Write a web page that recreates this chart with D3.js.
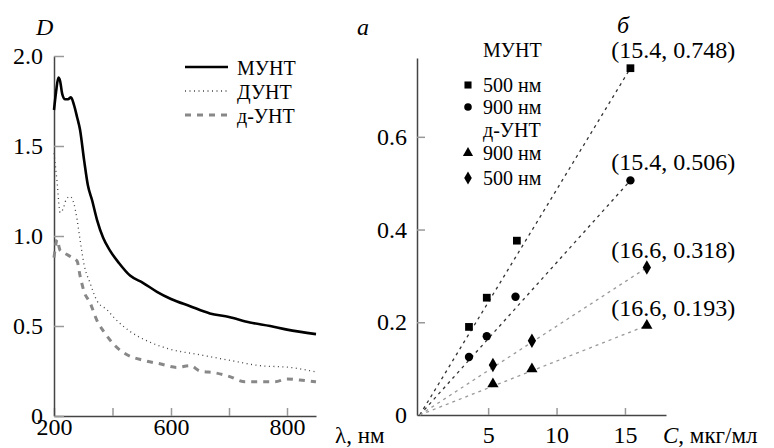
<!DOCTYPE html>
<html>
<head>
<meta charset="utf-8">
<script src="https://cdn.jsdelivr.net/npm/d3@7"></script>
<style>
  body { margin: 0; background: #fff; }
  svg, svg text { font-family: "Liberation Serif", "Times New Roman", serif; }
  .tick line { stroke: #999; stroke-width: 1.5; }
  .domain { stroke: #444; stroke-width: 1.5; }
  .tick text { font-size: 24px; fill: #000; }
</style>
</head>
<body>
<svg id="chart" width="774" height="448"></svg>
<script>
// panel a: absorption spectra
var munWl  = [200, 207, 215, 221, 228, 238, 248, 258, 268, 279, 289, 303, 316, 330, 347, 368, 391, 422, 460, 504, 552, 600, 633, 667, 700, 736, 771, 800, 850],
	munD   = [1.70, 1.80, 1.88, 1.86, 1.79, 1.76, 1.76, 1.77, 1.73, 1.66, 1.59, 1.42, 1.28, 1.20, 1.09, 0.99, 0.92, 0.85, 0.78, 0.74, 0.69, 0.65, 0.61, 0.57, 0.55, 0.52, 0.50, 0.48, 0.455];
var dunWl  = [200, 210, 221, 231, 241, 255, 268, 279, 289, 303, 323, 347, 381, 409, 460, 528, 600, 650, 700, 753, 805, 850],
	dunD   = [1.46, 1.31, 1.13, 1.15, 1.20, 1.22, 1.18, 1.09, 0.98, 0.84, 0.74, 0.64, 0.59, 0.54, 0.47, 0.41, 0.37, 0.34, 0.31, 0.28, 0.27, 0.245];
var duntWl = [200, 207, 210, 221, 241, 262, 279, 289, 303, 323, 347, 374, 409, 450, 504, 562, 610, 633, 650, 676, 700, 728, 753, 779, 800, 822, 850],
	duntD  = [0.88, 0.96, 0.98, 0.92, 0.90, 0.88, 0.86, 0.78, 0.69, 0.63, 0.53, 0.46, 0.39, 0.34, 0.31, 0.29, 0.27, 0.28, 0.25, 0.24, 0.22, 0.19, 0.19, 0.19, 0.205, 0.20, 0.19];
var seriesNames = ["МУНТ", "ДУНТ", "д-УНТ"];
var wlTicks  = [200, 400, 600, 700, 800],
	wlLabels = ["200", "", "600", "", "800"];
var dTicks   = [0, 0.5, 1.0, 1.5, 2.0];

// panel b: calibration
var cMunt500 = [3.6, 4.9, 7.1, 15.4],  dMunt500 = [0.19, 0.253, 0.376, 0.748];
var cMunt900 = [3.6, 4.9, 7.0, 15.4],  dMunt900 = [0.125, 0.17, 0.255, 0.506];
var cDunt900 = [5.35, 8.2, 16.6],      dDunt900 = [0.067, 0.099, 0.193];
var cDunt500 = [5.35, 8.2, 16.6],      dDunt500 = [0.108, 0.16, 0.318];
var cTicks = [5, 10, 15],
	aTicks = [0, 0.2, 0.4, 0.6];

var FONT = "'Liberation Serif', 'Times New Roman', serif";

var svg = d3.select("#chart").attr("font-family", FONT);

// ---------- left panel ----------
var xL = d3.scaleLinear().domain([200, 600, 800, 850]).range([54, 171, 287, 316]),
	yL = d3.scaleLinear().domain([0, 2]).range([416, 56]);

svg.append("g")
	.attr("transform", "translate(0," + yL(0) + ")")
	.call(d3.axisBottom(xL).tickValues(wlTicks).tickSize(-8).tickSizeOuter(0).tickPadding(2)
		.tickFormat((d, i) => wlLabels[i]))
	.attr("font-family", FONT).attr("font-size", 24);

svg.append("g")
	.attr("transform", "translate(" + xL(200) + ",0)")
	.call(d3.axisLeft(yL).tickValues(dTicks).tickSize(-10).tickSizeOuter(0).tickPadding(11)
		.tickFormat(d => d === 0 ? "0" : d.toFixed(1)))
	.attr("font-family", FONT).attr("font-size", 24);

var lineL = d3.line().x(d => xL(d[0])).y(d => yL(d[1])).curve(d3.curveMonotoneX);

var styles = [
	{stroke: "#000", width: 2.6, dash: null},
	{stroke: "#444", width: 1.3, dash: "1,3.5"},
	{stroke: "#888", width: 3, dash: "6,6"}
];
var spectra = [
	d3.zip(munWl, munD),
	d3.zip(dunWl, dunD),
	d3.zip(duntWl, duntD)
];

spectra.forEach(function(s, i) {
	svg.append("path")
		.datum(s)
		.attr("fill", "none")
		.attr("stroke", styles[i].stroke)
		.attr("stroke-width", styles[i].width)
		.attr("stroke-dasharray", styles[i].dash)
		.attr("d", lineL);
});

var legL = svg.append("g");
seriesNames.forEach(function(n, i) {
	var y = 67 + i * 24;
	legL.append("line")
		.attr("x1", 185).attr("x2", 228).attr("y1", y).attr("y2", y)
		.attr("stroke", styles[i].stroke)
		.attr("stroke-width", styles[i].width)
		.attr("stroke-dasharray", styles[i].dash);
	legL.append("text")
		.attr("x", 237).attr("y", y + 8)
		.style("font-size", "20px")
		.text(n);
});

svg.append("text").attr("x", 36).attr("y", 35)
	.style("font-size", "24px").style("font-style", "italic").text("D");
svg.append("text").attr("x", 335).attr("y", 443)
	.style("font-size", "23px").text("λ, нм");
svg.append("text").attr("x", 357).attr("y", 35)
	.style("font-size", "24px").style("font-style", "italic").text("a");

// ---------- right panel ----------
var xR = d3.scaleLinear().domain([-0.2, 18]).range([417, 666]),
	yR = d3.scaleLinear().domain([0, 0.77]).range([415, 58]);

svg.append("g")
	.attr("transform", "translate(0," + yR(0) + ")")
	.call(d3.axisBottom(xR).tickValues(cTicks).tickSize(-7).tickSizeOuter(0).tickPadding(11))
	.attr("font-family", FONT).attr("font-size", 24);

svg.append("g")
	.attr("transform", "translate(" + xR(-0.2) + ",0)")
	.call(d3.axisLeft(yR).tickValues(aTicks).tickSize(-8).tickSizeOuter(0).tickPadding(10)
		.tickFormat(d => d === 0 ? "0" : d.toFixed(1)))
	.attr("font-family", FONT).attr("font-size", 24)
	.call(g => g.selectAll(".tick").filter(d => d === 0).select("line").remove());

var groups = [
	{c: cMunt500, d: dMunt500, sym: d3.symbolSquare,   size: 60, line: "#333"},
	{c: cMunt900, d: dMunt900, sym: d3.symbolCircle,   size: 55, line: "#333"},
	{c: cDunt900, d: dDunt900, sym: d3.symbolTriangle, size: 55, line: "#999"},
	{c: cDunt500, d: dDunt500, sym: d3.symbolDiamond,  size: 60, line: "#999"}
];

var lineR = d3.line().x(d => xR(d[0])).y(d => yR(d[1]));

groups.forEach(function(g) {
	var n = g.c.length - 1;
	svg.append("path")
		.datum([[0, 0], [g.c[n], g.d[n]]])
		.attr("fill", "none")
		.attr("stroke", g.line)
		.attr("stroke-width", 1.3)
		.attr("stroke-dasharray", "3,4")
		.attr("d", lineR);
});

groups.forEach(function(g) {
	svg.selectAll(null)
		.data(d3.zip(g.c, g.d))
		.enter().append("path")
		.attr("transform", d => "translate(" + xR(d[0]) + "," + yR(d[1]) + ")")
		.attr("d", d3.symbol().type(g.sym).size(g.size))
		.attr("fill", "#000");

	var n = g.c.length - 1;
	svg.append("text")
		.attr("x", xR(14))
		.attr("y", yR(g.d[n]) - 10)
		.style("font-size", "24px")
		.text("(" + g.c[n] + ", " + g.d[n] + ")");
});

// legend of panel b
var legR = svg.append("g");
var legRows = [
	{t: "МУНТ", y: 57},
	{t: "500 нм", y: 92, g: 0},
	{t: "900 нм", y: 114, g: 1},
	{t: "д-УНТ", y: 137},
	{t: "900 нм", y: 160, g: 2},
	{t: "500 нм", y: 185, g: 3}
];
legRows.forEach(function(r) {
	legR.append("text")
		.attr("x", 483).attr("y", r.y)
		.style("font-size", "20px")
		.text(r.t);
	if (r.g !== undefined)
		legR.append("path")
			.attr("transform", "translate(468," + (r.y - 7) + ")")
			.attr("d", d3.symbol().type(groups[r.g].sym).size(groups[r.g].size - 10))
			.attr("fill", "#000");
});

svg.append("text").attr("x", 617).attr("y", 33)
	.style("font-size", "24px").style("font-style", "italic").text("б");
svg.append("text").attr("x", 663).attr("y", 443)
	.style("font-size", "23px")
	.call(t => t.append("tspan").style("font-style", "italic").text("C"))
	.call(t => t.append("tspan").text(", мкг/мл"));
</script>
</body>
</html>
